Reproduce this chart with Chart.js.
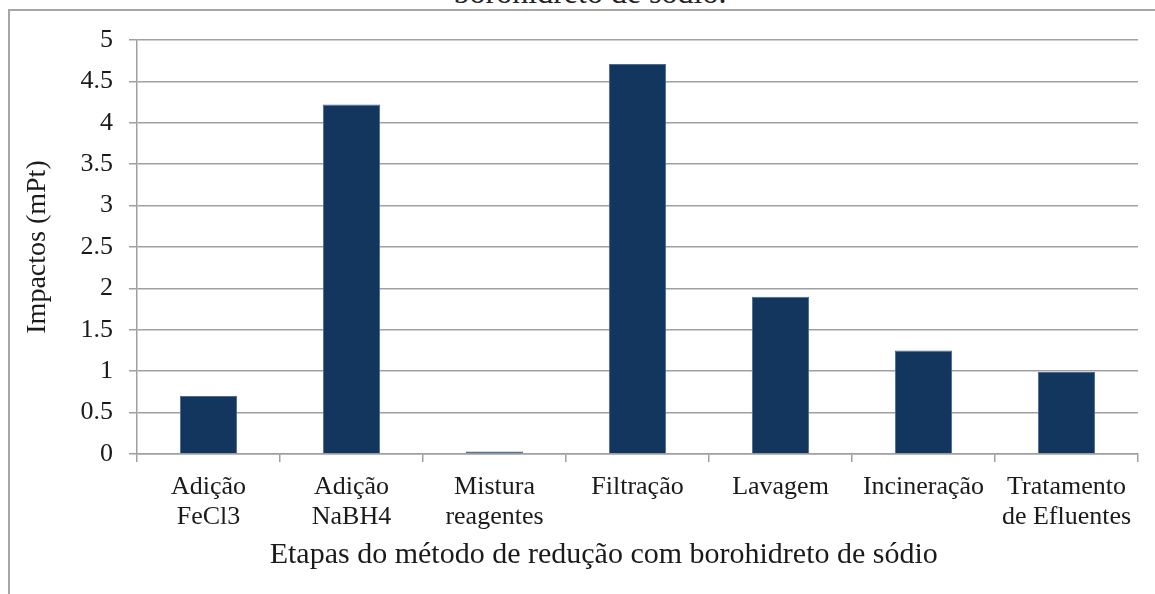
<!DOCTYPE html>
<html lang="pt">
<head>
    <meta charset="UTF-8">
    <title>Impactos por etapa</title>
    <script src="https://cdn.jsdelivr.net/npm/chart.js"></script>
    <style>
        body {
            margin: 0;
            width: 1155px;
            height: 594px;
            overflow: hidden;
            background: white;
            font-family: "Liberation Serif", serif;
            position: relative;
        }
        .caption {
            position: absolute;
            left: 0;
            width: 1180px;
            top: -24px;
            text-align: center;
            font-size: 32px;
            line-height: 32px;
            color: #222;
        }
        .frame {
            position: absolute;
            left: 8px;
            top: 9px;
            width: 1300px;
            height: 700px;
            border: 2px solid #a6a6a6;
        }
        .chart-box {
            position: absolute;
            left: 0;
            top: 0;
            width: 1155px;
            height: 594px;
        }
    </style>
</head>
<body>

    <div class="caption">borohidreto de sódio.</div>
    <div class="frame"></div>
    <div class="chart-box">
        <canvas id="impactChart"></canvas>
    </div>

    <script>
        const etapas = [
            ['Adição', 'FeCl3'],
            ['Adição', 'NaBH4'],
            ['Mistura', 'reagentes'],
            'Filtração',
            'Lavagem',
            'Incineração',
            ['Tratamento', 'de Efluentes']
        ];
        const impactos = [0.70, 4.22, 0.03, 4.71, 1.90, 1.25, 0.99];

        const yMin = 0;
        const yMax = 5;
        const yStep = 0.5;

        const serif = '"Liberation Serif", "Times New Roman", serif';
        const textColor = '#1a1a1a';
        const lineGray = '#a0a0a0';

        // the axis title sits a bit left of the plot centre in the original
        const xTitle = 'Etapas do método de redução com borohidreto de sódio' + '\u00a0'.repeat(9);

        new Chart(document.getElementById('impactChart').getContext('2d'), {
            type: 'bar',
            data: {
                labels: etapas,
                datasets: [{
                    label: 'Impactos (mPt)',
                    data: impactos,
                    backgroundColor: '#12365e',
                    borderColor: '#4a6b92',
                    borderWidth: 1,
                    categoryPercentage: 1,
                    barPercentage: 0.4
                }]
            },
            options: {
                responsive: true,
                maintainAspectRatio: false,
                animation: false,
                layout: {
                    padding: { left: 8, right: 17, top: 40, bottom: 0 }
                },
                plugins: {
                    legend: { display: false },
                    tooltip: { enabled: false }
                },
                scales: {
                    x: {
                        afterFit: scale => { scale.height = 140; },
                        grid: {
                            drawOnChartArea: false,
                            drawTicks: true,
                            tickLength: 8,
                            color: lineGray,
                            lineWidth: 1.5
                        },
                        border: { color: lineGray, width: 1.5 },
                        ticks: {
                            color: textColor,
                            padding: 10,
                            maxRotation: 0,
                            autoSkip: false,
                            font: { family: serif, size: 26, lineHeight: 1.15 }
                        },
                        title: {
                            display: true,
                            text: xTitle,
                            color: textColor,
                            padding: { top: 4, bottom: 21 },
                            font: { family: serif, size: 30 }
                        }
                    },
                    y: {
                        min: yMin,
                        max: yMax,
                        afterFit: scale => { scale.width = 129; },
                        ticks: {
                            stepSize: yStep,
                            color: textColor,
                            padding: 16,
                            font: { family: serif, size: 26 },
                            callback: v => String(Number(v.toFixed(1)))
                        },
                        grid: {
                            color: lineGray,
                            lineWidth: 1.5,
                            tickLength: 8
                        },
                        border: { color: lineGray, width: 1.5 },
                        title: {
                            display: true,
                            text: 'Impactos (mPt)',
                            color: textColor,
                            padding: { top: 13, bottom: 4 },
                            font: { family: serif, size: 28 }
                        }
                    }
                }
            }
        });
    </script>

</body>
</html>
